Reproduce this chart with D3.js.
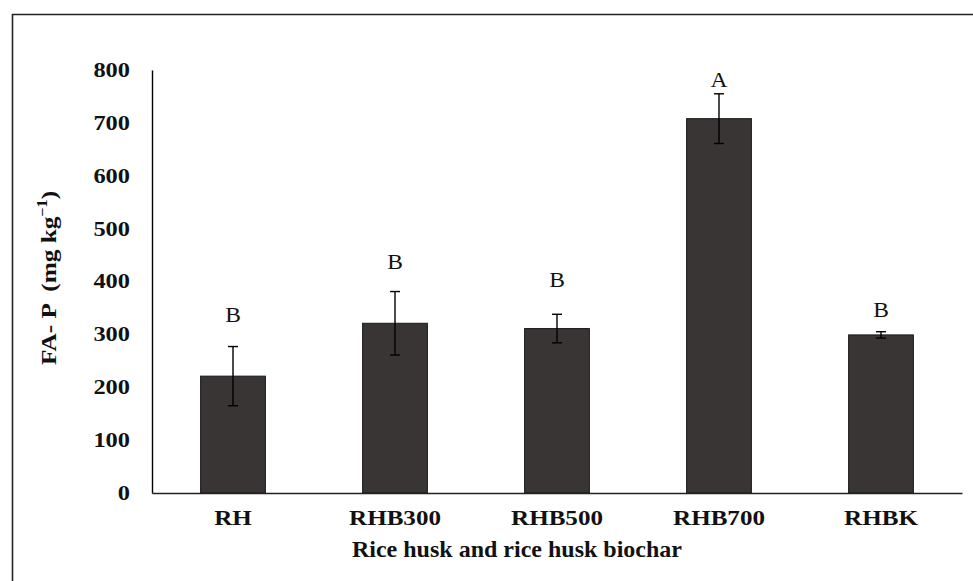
<!DOCTYPE html>
<html><head><meta charset="utf-8">
<script src="https://cdn.jsdelivr.net/npm/d3@7"></script>
<style>body{margin:0;background:#fff;} svg{display:block;} svg text{font-family:"Liberation Serif","Times New Roman","DejaVu Serif",serif;}</style>
</head><body>
<svg id="c" width="973" height="581"></svg>
<script>
const categories = ["RH", "RHB300", "RHB500", "RHB700", "RHBK"];
const values = [221, 321, 311, 708, 299];
const errors = [56, 60, 27, 47, 6];
const letters = ["B", "B", "B", "A", "B"];
const letterValues = [336, 437, 403, 782, 346];
const yTicks = [0, 100, 200, 300, 400, 500, 600, 700, 800];

const svg = d3.select("#c");

function stretch(sel, k) {
  sel.each(function () {
    const L = this.getComputedTextLength();
    d3.select(this).attr("textLength", L * k).attr("lengthAdjust", "spacingAndGlyphs");
  });
}

// frame
svg.append("path").attr("d", "M12.5,581 V14.5 H973").attr("fill", "none")
  .attr("stroke", "#222").attr("stroke-width", 1.6);

const x = d3.scaleBand().domain(categories).range([152, 962]).paddingInner(0.6).paddingOuter(0.3);
const y = d3.scaleLinear().domain([0, 800]).range([493, 70]);

// bars
svg.selectAll("rect.bar").data(categories).enter().append("rect")
  .attr("x", d => x(d)).attr("width", x.bandwidth())
  .attr("y", (d, i) => y(values[i])).attr("height", (d, i) => y(0) - y(values[i]))
  .attr("fill", "#383534").attr("stroke", "#1a1a1a").attr("stroke-width", 1);

// error bars
const cx = d => x(d) + x.bandwidth() / 2;
const eb = svg.selectAll("g.eb").data(categories).enter().append("g")
  .attr("stroke", "#000").attr("stroke-width", 1.4);
eb.append("line").attr("x1", cx).attr("x2", cx)
  .attr("y1", (d, i) => y(values[i] + errors[i])).attr("y2", (d, i) => y(values[i] - errors[i]));
eb.append("line").attr("x1", d => cx(d) - 5).attr("x2", d => cx(d) + 5)
  .attr("y1", (d, i) => y(values[i] + errors[i])).attr("y2", (d, i) => y(values[i] + errors[i]));
eb.append("line").attr("x1", d => cx(d) - 5).attr("x2", d => cx(d) + 5)
  .attr("y1", (d, i) => y(values[i] - errors[i])).attr("y2", (d, i) => y(values[i] - errors[i]));

// letters
const lt = svg.selectAll("text.let").data(categories).enter().append("text")
  .attr("x", cx).attr("y", (d, i) => y(letterValues[i]))
  .attr("text-anchor", "middle").attr("dominant-baseline", "central")
  .attr("font-size", 21).attr("fill", "#111")
  .text((d, i) => letters[i]);
stretch(lt, 1.12);

// y axis
const ya = svg.append("g").attr("transform", "translate(152,0)")
  .call(d3.axisLeft(y).tickValues(yTicks).tickSize(0).tickPadding(22));
ya.attr("font-family", null);
ya.select(".domain").attr("stroke", "#000").attr("stroke-width", 1.4);
ya.selectAll("text").attr("font-weight", "bold")
  .attr("font-size", 20).attr("fill", "#111");
stretch(ya.selectAll("text"), 1.22);

// x axis
const xa = svg.append("g").attr("transform", "translate(0,493)")
  .call(d3.axisBottom(x).tickSize(0).tickPadding(16));
xa.attr("font-family", null);
xa.select(".domain").attr("stroke", "#222").attr("stroke-width", 1.6);
xa.selectAll("text").attr("font-weight", "bold")
  .attr("font-size", 22).attr("fill", "#111");
stretch(xa.selectAll("text"), 1.14);

// x axis title
svg.append("text").attr("x", 682).attr("y", 557).attr("text-anchor", "end")
  .attr("font-weight", "bold").attr("font-size", 24).attr("fill", "#111")
  .text("Rice husk and rice husk biochar");

// y axis title
const yt = svg.append("text").attr("transform", "translate(56,278) rotate(-90)")
  .attr("text-anchor", "middle").attr("font-weight", "bold")
  .attr("font-size", 22).attr("fill", "#111").attr("xml:space", "preserve");
yt.append("tspan").text("FA- P  (mg kg");
yt.append("tspan").attr("dy", -9).attr("font-size", 14).text("−1");
yt.append("tspan").attr("dy", 9).text(")");
stretch(yt, 1.15);
</script>
</body></html>
